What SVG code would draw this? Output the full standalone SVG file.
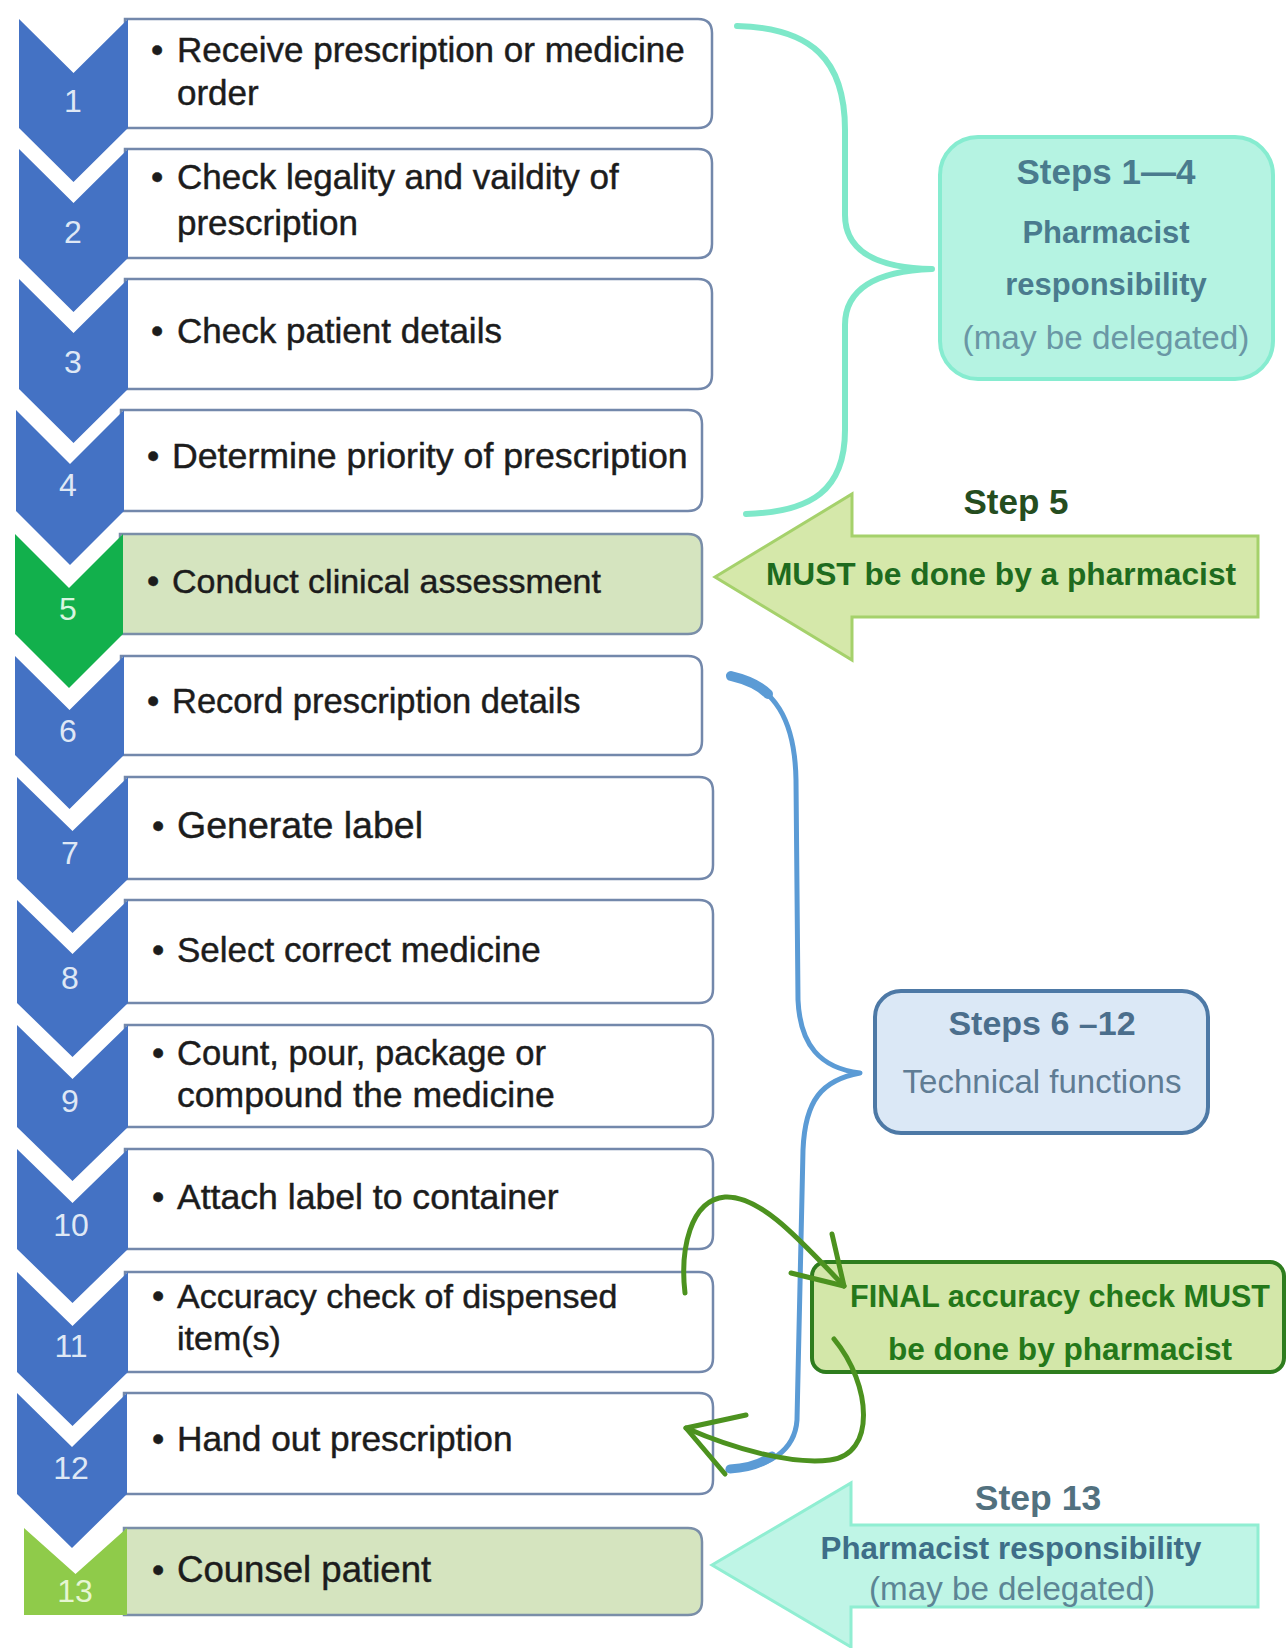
<svg xmlns="http://www.w3.org/2000/svg" width="1287" height="1648" viewBox="0 0 1287 1648">
<defs>
<style>
.chev{fill:#4472c4}
.chevg{fill:#12b04c}
.chevl{fill:#8fcb4a}
.box{fill:#ffffff;stroke:#7388ab;stroke-width:2.5}
.boxg{fill:#d5e4bf;stroke:#7a8ea8;stroke-width:2.5}
.num{font-family:"Liberation Sans",Arial,sans-serif;font-size:32px;fill:#dfe8f5;text-anchor:middle}
.t{font-family:"Liberation Sans",Arial,sans-serif;font-size:35px;fill:#1c1c1c}
.s{stroke:#1c1c1c;stroke-width:0.45}
.c{text-anchor:middle}
.b{font-weight:bold}
.teal{fill:#4a7b8e}
.brace{fill:none;stroke-linecap:round;stroke-linejoin:round}
.garrow{fill:none;stroke:#4c921f;stroke-width:5;stroke-linecap:round;stroke-linejoin:round}
</style>
</defs>
<rect width="1287" height="1648" fill="#ffffff"/>

<g id="step1">
<path class="box" d="M125 19 H698 Q712 19 712 33 V114 Q712 128 698 128 H125 Z"/>
<path class="chev" d="M19 19 L73.5 73 L128 19 L128 128 L73.5 182 L19 128 Z"/>
<text class="num" x="73" y="112">1</text>
<text class="t s" x="151" y="62">•</text>
<text class="t s" x="177" y="62">Receive prescription or medicine</text>
<text class="t s" x="177" y="105">order</text>
</g>

<g id="step2">
<path class="box" d="M125 149 H698 Q712 149 712 163 V244 Q712 258 698 258 H125 Z"/>
<path class="chev" d="M19 149 L73.5 203 L128 149 L128 258 L73.5 312 L19 258 Z"/>
<text class="num" x="73" y="243">2</text>
<text class="t s" x="151" y="189">•</text>
<text class="t s" x="177" y="189">Check legality and vaildity of</text>
<text class="t s" x="177" y="235">prescription</text>
</g>

<g id="step3">
<path class="box" d="M125 279 H698 Q712 279 712 293 V375 Q712 389 698 389 H125 Z"/>
<path class="chev" d="M19 279 L73.5 333 L128 279 L128 389 L73.5 443 L19 389 Z"/>
<text class="num" x="73" y="373">3</text>
<text class="t s" x="151" y="343">•</text>
<text class="t s" x="177" y="343">Check patient details</text>
</g>

<g id="step4">
<path class="box" d="M121 410 H688 Q702 410 702 424 V497 Q702 511 688 511 H121 Z"/>
<path class="chev" d="M16 410 L70 464 L124 410 L124 511 L70 565 L16 511 Z"/>
<text class="num" x="68" y="496">4</text>
<text class="t s" x="147" y="468">•</text>
<text class="t s" x="172" y="468" style="font-size:35.7px">Determine priority of prescription</text>
</g>

<g id="step5">
<path class="boxg" d="M120 534 H688 Q702 534 702 548 V620 Q702 634 688 634 H120 Z"/>
<path class="chevg" d="M15 534 L69 588 L123 534 L123 634 L69 688 L15 634 Z"/>
<text class="num" x="68" y="620" style="fill:#d8f5e0">5</text>
<text class="t s" x="147" y="593">•</text>
<text class="t s" x="172" y="593" style="font-size:34px">Conduct clinical assessment</text>
</g>

<g id="step6">
<path class="box" d="M121 656 H688 Q702 656 702 670 V741 Q702 755 688 755 H121 Z"/>
<path class="chev" d="M15 656 L69.5 710 L124 656 L124 755 L69.5 809 L15 755 Z"/>
<text class="num" x="68" y="742">6</text>
<text class="t s" x="147" y="713">•</text>
<text class="t s" x="172" y="713" style="font-size:34.5px">Record prescription details</text>
</g>

<g id="step7">
<path class="box" d="M125 777 H699 Q713 777 713 791 V865 Q713 879 699 879 H125 Z"/>
<path class="chev" d="M17 777 L72.5 831 L128 777 L128 879 L72.5 933 L17 879 Z"/>
<text class="num" x="70" y="864">7</text>
<text class="t s" x="152" y="838">•</text>
<text class="t s" x="177" y="838" style="font-size:37.5px">Generate label</text>
</g>

<g id="step8">
<path class="box" d="M125 900 H699 Q713 900 713 914 V989 Q713 1003 699 1003 H125 Z"/>
<path class="chev" d="M17 900 L72.5 954 L128 900 L128 1003 L72.5 1057 L17 1003 Z"/>
<text class="num" x="70" y="989">8</text>
<text class="t s" x="152" y="962">•</text>
<text class="t s" x="177" y="962">Select correct medicine</text>
</g>

<g id="step9">
<path class="box" d="M125 1025 H699 Q713 1025 713 1039 V1113 Q713 1127 699 1127 H125 Z"/>
<path class="chev" d="M17 1025 L72.5 1079 L128 1025 L128 1127 L72.5 1181 L17 1127 Z"/>
<text class="num" x="70" y="1112">9</text>
<text class="t s" x="152" y="1065">•</text>
<text class="t s" x="177" y="1065" style="font-size:34.6px">Count, pour, package or</text>
<text class="t s" x="177" y="1107" style="font-size:35.6px">compound the medicine</text>
</g>

<g id="step10">
<path class="box" d="M125 1149 H699 Q713 1149 713 1163 V1235 Q713 1249 699 1249 H125 Z"/>
<path class="chev" d="M17 1149 L72.5 1203 L128 1149 L128 1249 L72.5 1303 L17 1249 Z"/>
<text class="num" x="71" y="1236">10</text>
<text class="t s" x="152" y="1209">•</text>
<text class="t s" x="177" y="1209" style="font-size:35.6px">Attach label to container</text>
</g>

<g id="step11">
<path class="box" d="M125 1272 H699 Q713 1272 713 1286 V1358 Q713 1372 699 1372 H125 Z"/>
<path class="chev" d="M17 1272 L72.5 1326 L128 1272 L128 1372 L72.5 1426 L17 1372 Z"/>
<text class="num" x="71" y="1357">11</text>
<text class="t s" x="152" y="1308">•</text>
<text class="t s" x="177" y="1308" style="font-size:34px">Accuracy check of dispensed</text>
<text class="t s" x="177" y="1350" style="font-size:34px">item(s)</text>
</g>

<g id="step12">
<path class="box" d="M124 1393 H699 Q713 1393 713 1407 V1480 Q713 1494 699 1494 H124 Z"/>
<path class="chev" d="M17 1393 L72 1447 L127 1393 L127 1494 L72 1548 L17 1494 Z"/>
<text class="num" x="71" y="1479">12</text>
<text class="t s" x="152" y="1451">•</text>
<text class="t s" x="177" y="1451" style="font-size:35.3px">Hand out prescription</text>
</g>

<g id="step13">
<path class="boxg" d="M124 1528 H688 Q702 1528 702 1542 V1601 Q702 1615 688 1615 H124 Z"/>
<path class="chevl" d="M24 1528 L75.5 1574 L127 1528 L127 1615 L24 1615 Z"/>
<text class="num" x="75" y="1602" style="fill:#e6f6d2">13</text>
<text class="t s" x="152" y="1582">•</text>
<text class="t s" x="177" y="1582" style="font-size:36.6px">Counsel patient</text>
</g>

<g id="note-steps1-4">
<rect x="940" y="137" width="333" height="242" rx="38" fill="#b5f3e2" stroke="#86ecd0" stroke-width="4"/>
<text class="t c b teal" x="1106" y="184" style="font-size:35px">Steps 1—4</text>
<text class="t c b teal" x="1106" y="243" style="font-size:31px">Pharmacist</text>
<text class="t c b teal" x="1106" y="295" style="font-size:31px">responsibility</text>
<text class="t c" x="1106" y="349" style="font-size:33.3px;fill:#6a97a5">(may be delegated)</text>
</g>

<g id="note-step5">
<path d="M715 577 L852 494 L852 536 L1258 536 L1258 617 L852 617 L852 660 Z" fill="#d5e8aa" stroke="#a5d16b" stroke-width="3"/>
<text class="t c b" x="1016" y="514" style="font-size:35px;fill:#254d1f">Step 5</text>
<text class="t c b" x="1001" y="585" style="font-size:31.7px;fill:#1e6b1e">MUST be done by a pharmacist</text>
</g>

<g id="note-steps6-12">
<rect x="875" y="991" width="333" height="142" rx="26" fill="#dbe8f6" stroke="#4d79a6" stroke-width="4"/>
<text class="t c b" x="1042" y="1035" style="font-size:34px;fill:#4b6e8c">Steps 6 –12</text>
<text class="t c" x="1042" y="1093" style="font-size:33px;fill:#5f7c94">Technical functions</text>
</g>

<g id="note-final-check">
<rect x="812" y="1262" width="472" height="110" rx="14" fill="#d3e7a9" stroke="#2e7d1e" stroke-width="4"/>
<text class="t c b" x="1060" y="1307" style="font-size:30.5px;fill:#24781a">FINAL accuracy check MUST</text>
<text class="t c b" x="1060" y="1360" style="font-size:31.6px;fill:#24781a">be done by pharmacist</text>
</g>

<g id="note-step13">
<path d="M712 1565 L851 1483 L851 1525 L1258 1525 L1258 1607 L851 1607 L851 1647 Z" fill="#bff5e6" stroke="#90eed2" stroke-width="3"/>
<text class="t c b" x="1038" y="1510" style="font-size:35.5px;fill:#52717f">Step 13</text>
<text class="t c b" x="1011" y="1559" style="font-size:31.3px;fill:#3e6e88">Pharmacist responsibility</text>
<text class="t c" x="1012" y="1600" style="font-size:33.2px;fill:#5c8595">(may be delegated)</text>
</g>

<g id="connectors">
<path class="brace" stroke="#7ee8c9" stroke-width="6" d="M737 26 C812 28 845 60 845 130 L845 215 C845 250 875 268 932 269 C875 271 845 290 845 325 L845 430 C845 490 812 512 746 514"/>
<path class="brace" stroke="#5b9bd5" stroke-width="5" d="M729 675 C775 685 795 720 796 780 L798 1000 C800 1045 820 1068 860 1073 C822 1080 805 1100 803 1150 L797 1420 C795 1450 770 1468 728 1470"/>
<path class="brace" stroke="#5b9bd5" stroke-width="10" d="M731 676 C748 680 760 686 768 694"/>
<path class="brace" stroke="#5b9bd5" stroke-width="9" d="M730 1469 C748 1468 762 1463 772 1456"/>
<path class="garrow" d="M685 1293 C680 1250 690 1200 725 1197 C760 1195 800 1240 844 1286"/>
<path class="garrow" d="M832 1234 L844 1286 L791 1273"/>
<path class="garrow" d="M834 1339 C872 1385 876 1455 830 1460 C790 1465 732 1448 686 1428"/>
<path class="garrow" d="M746 1415 L686 1428 L725 1474"/>
</g>
</svg>
